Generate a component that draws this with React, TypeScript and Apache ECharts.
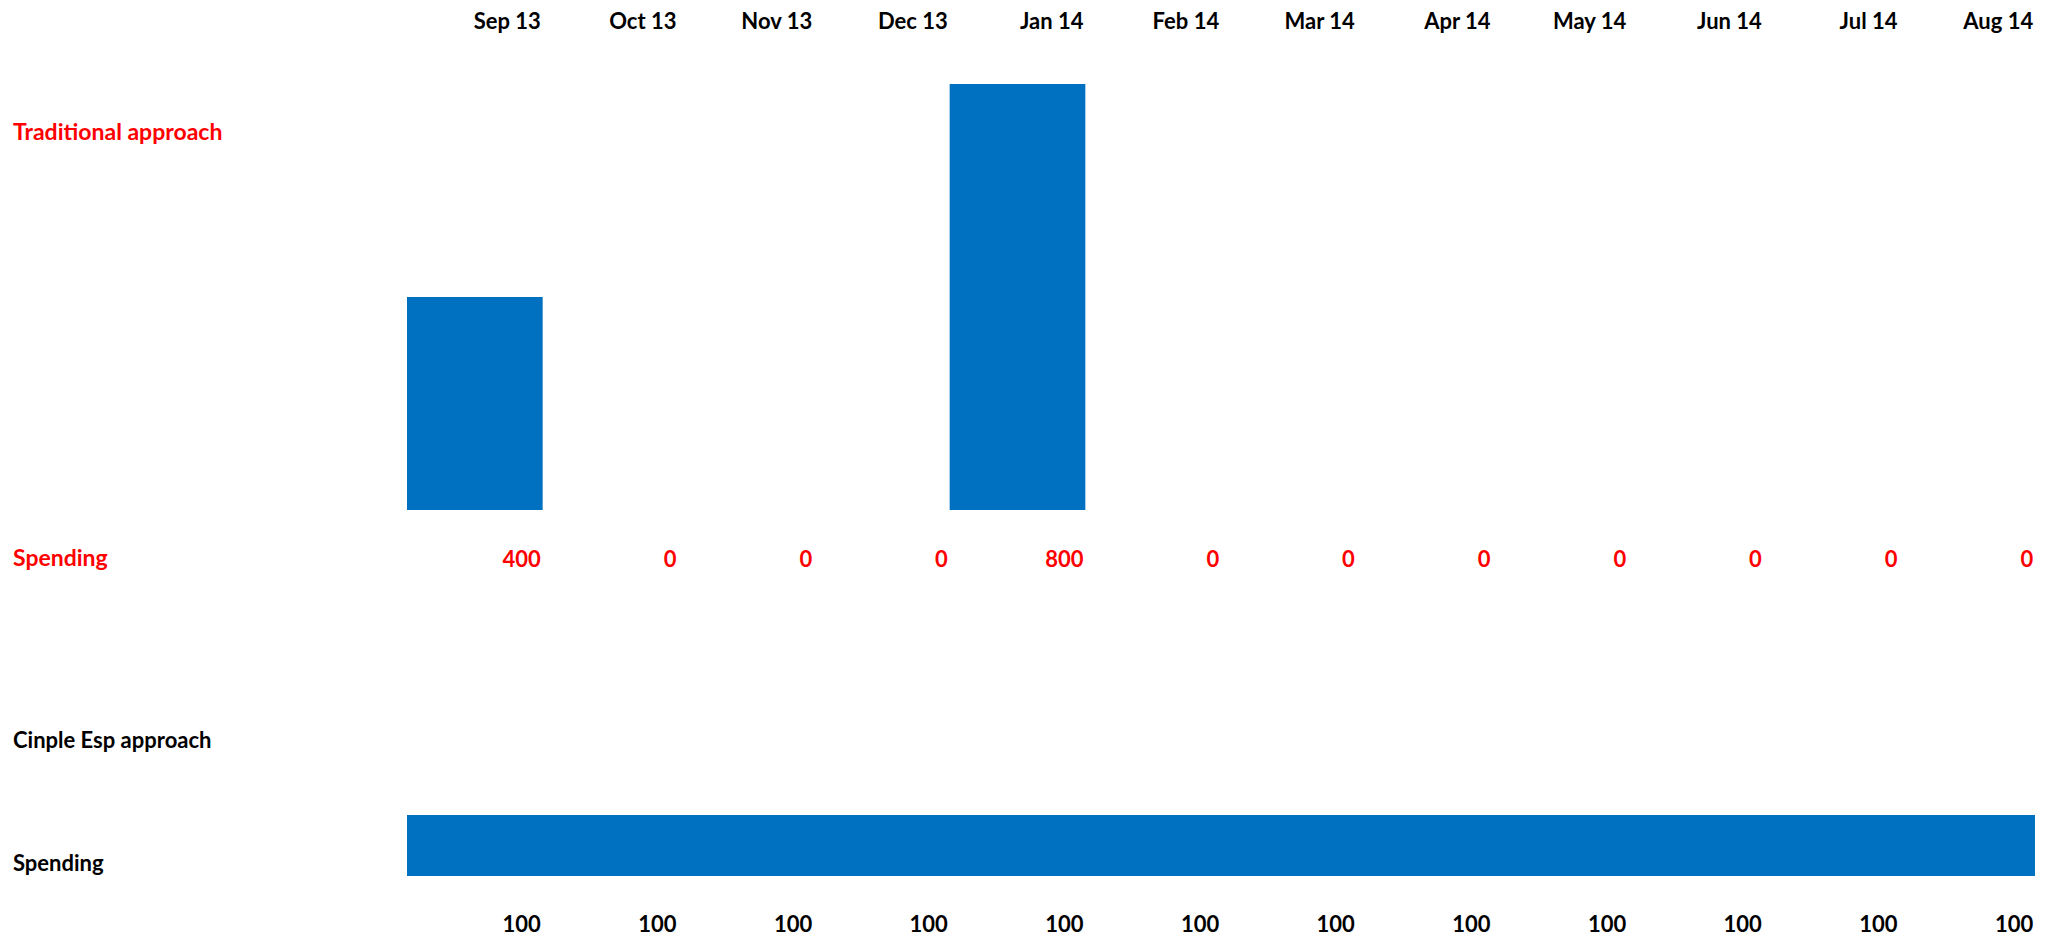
import React, { useEffect, useRef } from "react";
import * as echarts from "echarts";

const months = ["Sep 13", "Oct 13", "Nov 13", "Dec 13", "Jan 14", "Feb 14", "Mar 14", "Apr 14", "May 14", "Jun 14", "Jul 14", "Aug 14"];
const traditional = [400, 0, 0, 0, 800, 0, 0, 0, 0, 0, 0, 0];
const cinple = [100, 100, 100, 100, 100, 100, 100, 100, 100, 100, 100, 100];

const FONT = "Lato";
const BLUE = "#0070C0";
const RED = "#FF0000";

export default function App() {
  const ref = useRef<HTMLDivElement>(null);
  useEffect(() => {
    if (!ref.current) return;
    const chart = echarts.init(ref.current, undefined, { renderer: "svg" });
    const labelRich = (color: string) => ({
      a: { width: 132, align: "right", fontFamily: FONT, fontWeight: "bold", fontSize: 22, color },
    });
    chart.setOption({
      animation: false,
      backgroundColor: "#ffffff",
      grid: [
        { left: 407, width: 1628, top: 84, height: 426 },
        { left: 407, width: 1628, top: 815, height: 61 },
      ],
      xAxis: [
        {
          type: "category", gridIndex: 0, position: "top", data: months,
          axisLine: { show: false }, axisTick: { show: false }, splitLine: { show: false },
          axisLabel: { interval: 0, margin: 53, formatter: (v: string) => `{a|${v}}`, rich: labelRich("#000000") },
        },
        {
          type: "category", gridIndex: 0, position: "bottom", data: months,
          axisLine: { show: false }, axisTick: { show: false }, splitLine: { show: false },
          axisLabel: { interval: 0, margin: 37, formatter: (_v: string, i: number) => `{a|${traditional[i]}}`, rich: labelRich(RED) },
        },
        {
          type: "category", gridIndex: 1, position: "bottom", data: months,
          axisLine: { show: false }, axisTick: { show: false }, splitLine: { show: false },
          axisLabel: { interval: 0, margin: 36, formatter: (_v: string, i: number) => `{a|${cinple[i]}}`, rich: labelRich("#000000") },
        },
      ],
      yAxis: [
        { type: "value", gridIndex: 0, min: 0, max: 800, show: false },
        { type: "value", gridIndex: 1, min: 0, max: 100, show: false },
      ],
      graphic: [
        { type: "text", left: 13, top: 119, style: { text: "Traditional approach", fill: RED, font: `bold 23px ${FONT}` } },
        { type: "text", left: 13, top: 545, style: { text: "Spending", fill: RED, font: `bold 23px ${FONT}` } },
        { type: "text", left: 13, top: 728, style: { text: "Cinple Esp approach", fill: "#000000", font: `bold 22px ${FONT}` } },
        { type: "text", left: 13, top: 851, style: { text: "Spending", fill: "#000000", font: `bold 22px ${FONT}` } },
      ],
      series: [
        {
          type: "bar", xAxisIndex: 0, yAxisIndex: 0, data: traditional, barWidth: "100%",
          itemStyle: { color: BLUE }, silent: true,
        },
        {
          type: "bar", xAxisIndex: 2, yAxisIndex: 1, data: cinple, barWidth: "101.5%",
          itemStyle: { color: BLUE }, silent: true,
        },
      ],
    });
    return () => chart.dispose();
  }, []);
  return (
    <div
      ref={ref}
      style={{ position: "fixed", left: 0, top: 0, width: 2051, height: 938, background: "#fff" }}
    />
  );
}
